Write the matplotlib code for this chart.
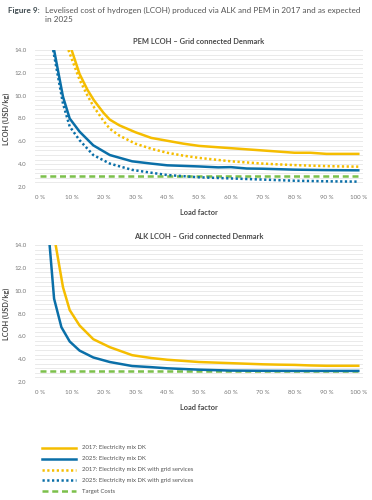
import matplotlib
matplotlib.use("Agg")
import matplotlib.pyplot as plt
import numpy as np

plt.rcParams['font.family'] = ['Lato', 'DejaVu Sans']

# colours
YEL = '#F5BD00'
BLU = '#0A6FA8'
GRN = '#7CC04B'
GRID = '#E6E6E6'
TXT = '#4A4A4A'

# PEM - grid connected Denmark
pem17_x = [10, 12.5, 15, 17, 20, 22, 25, 30, 35, 40, 45, 50, 55, 60, 65, 70, 75, 80, 85, 90, 95, 100]
pem17_y = [14.0, 11.9, 10.5, 9.6, 8.5, 7.9, 7.4, 6.8, 6.3, 6.05, 5.8, 5.6, 5.5, 5.4, 5.3, 5.2, 5.1, 5.0, 5.0, 4.9, 4.9, 4.9]

pem17g_x = [9, 12.5, 15, 17, 20, 22, 25, 30, 35, 40, 45, 50, 55, 60, 65, 70, 75, 80, 85, 90, 95, 100]
pem17g_y = [14.0, 11.4, 10.0, 9.0, 7.8, 7.1, 6.5, 5.8, 5.35, 5.0, 4.75, 4.55, 4.4, 4.25, 4.15, 4.05, 3.98, 3.92, 3.87, 3.83, 3.8, 3.78]

pem25_x = [4.5, 7.3, 9.4, 12.5, 16.8, 22, 29, 35, 40, 50, 56, 60, 65, 70, 80, 90, 100]
pem25_y = [14.0, 9.9, 8.0, 6.85, 5.65, 4.8, 4.25, 4.05, 3.9, 3.8, 3.72, 3.74, 3.62, 3.6, 3.52, 3.48, 3.46]

pem25g_x = [4.2, 7.3, 9.4, 12.5, 16.8, 22, 29, 35, 40, 50, 60, 70, 80, 90, 100]
pem25g_y = [14.0, 9.3, 7.3, 6.1, 4.8, 4.05, 3.5, 3.25, 3.05, 2.85, 2.75, 2.65, 2.55, 2.5, 2.47]

# ALK - grid connected Denmark
alk17_x = [5, 7.3, 9.4, 12.5, 16.8, 22, 29, 35, 40, 45, 50, 55, 60, 65, 70, 75, 80, 85, 90, 95, 100]
alk17_y = [14.0, 10.3, 8.3, 6.95, 5.75, 5.05, 4.35, 4.1, 3.95, 3.85, 3.75, 3.7, 3.65, 3.6, 3.55, 3.52, 3.5, 3.45, 3.42, 3.42, 3.42]

alk25_x = [3.1, 4.5, 6.8, 9.4, 12.5, 16.8, 22, 29, 35, 40, 50, 60, 70, 80, 100]
alk25_y = [14.0, 9.3, 6.8, 5.55, 4.75, 4.15, 3.75, 3.4, 3.3, 3.2, 3.08, 3.0, 2.98, 2.97, 2.97]

target_x = [0, 100]
target_y = [3.0, 3.0]

xticks = [0, 10, 20, 30, 40, 50, 60, 70, 80, 90, 100]
xticklabels = ['%d %%' % v for v in xticks]
yticks = [2, 4, 6, 8, 10, 12, 14]

labels = ['2017: Electricity mix DK',
          '2025: Electricity mix DK',
          '2017: Electricity mix DK with grid services',
          '2025: Electricity mix DK with grid services',
          'Target Costs']

LW = 1.8
DOT = (0, (0.9, 1.0))
DASH = (0, (2.4, 1.5))

fig = plt.figure(figsize=(3.72, 5.0), dpi=100)


def style(ax, title):
    ax.set_xlim(-1.5, 101.5)
    ax.set_ylim(2, 14)
    ax.set_yticks(yticks)
    ax.set_yticklabels(['%.1f' % v for v in yticks])
    ax.set_yticks(np.arange(2, 14.01, 0.4), minor=True)
    ax.set_xticks(xticks)
    ax.set_xticklabels(xticklabels)
    ax.grid(True, which='both', axis='y', color=GRID, lw=0.6)
    ax.set_axisbelow(True)
    for s in ax.spines.values():
        s.set_visible(False)
    ax.tick_params(axis='both', which='both', length=0, labelsize=4.4, colors='#777777', pad=6)
    ax.set_title(title, fontsize=5.4, fontweight='bold', color=TXT, pad=4)
    ax.set_ylabel('LCOH (USD/kg)', fontsize=5.3, fontweight='bold', color=TXT, labelpad=3)
    ax.set_xlabel('Load factor', fontsize=5.3, fontweight='bold', color=TXT, labelpad=4)
    ax.xaxis.set_label_coords(0.5, -0.16)


ax1 = fig.add_axes([0.094, 0.626, 0.882, 0.274])
ax1.plot(target_x, target_y, color=GRN, lw=LW, ls=DASH)
ax1.plot(pem17_x, pem17_y, color=YEL, lw=LW)
ax1.plot(pem25_x, pem25_y, color=BLU, lw=LW)
ax1.plot(pem17g_x, pem17g_y, color=YEL, lw=LW, ls=DOT)
ax1.plot(pem25g_x, pem25g_y, color=BLU, lw=LW, ls=DOT)
style(ax1, 'PEM LCOH – Grid connected Denmark')

ax2 = fig.add_axes([0.094, 0.236, 0.882, 0.274])
ax2.plot(target_x, target_y, color=GRN, lw=LW, ls=DASH)
ax2.plot(alk17_x, alk17_y, color=YEL, lw=LW)
ax2.plot(alk25_x, alk25_y, color=BLU, lw=LW)
style(ax2, 'ALK LCOH – Grid connected Denmark')

# header
fig.text(0.022, 0.98, 'Figure 9:', fontsize=5.9, fontweight='bold', color='#3E4A4F', va='center')
fig.text(0.12, 0.98, 'Levelised cost of hydrogen (LCOH) produced via ALK and PEM in 2017 and as expected',
         fontsize=5.9, color='#555555', va='center')
fig.text(0.12, 0.961, 'in 2025', fontsize=5.9, color='#555555', va='center')

# legend
styles = [(YEL, '-'), (BLU, '-'), (YEL, DOT), (BLU, DOT), (GRN, DASH)]
leg = fig.add_axes([0, 0, 1, 1], facecolor='none')
leg.set_xlim(0, 372)
leg.set_ylim(500, 0)
leg.axis('off')
for i, ((c, ls), lab) in enumerate(zip(styles, labels)):
    y = 448 + i * 10.8
    leg.plot([42, 76], [y, y], color=c, lw=LW, ls=ls)
    leg.text(82, y, lab, fontsize=4.3, color='#555555', va='center')

fig.savefig('out.png', dpi=100)
